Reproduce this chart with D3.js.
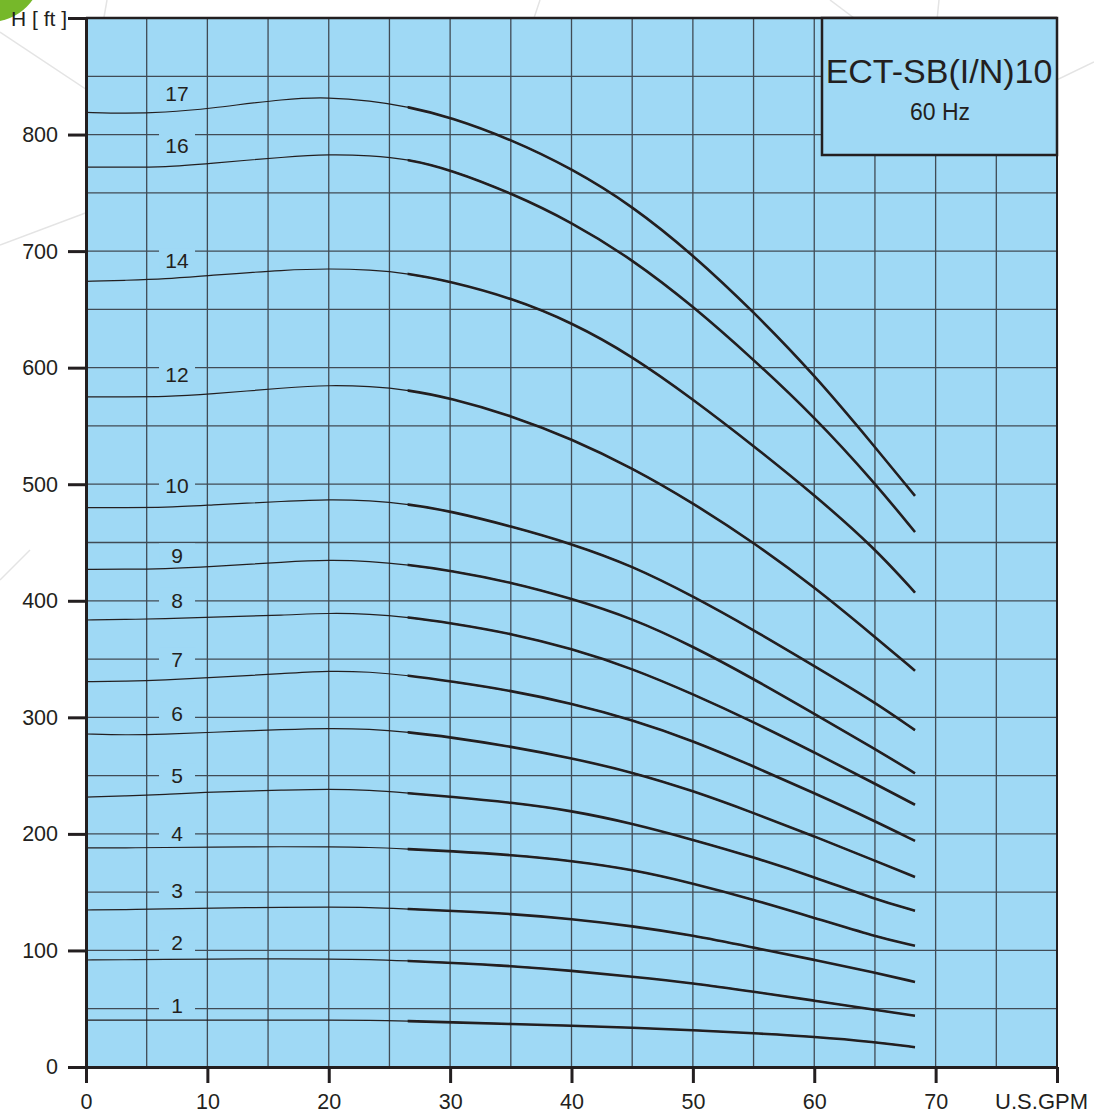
<!DOCTYPE html>
<html>
<head>
<meta charset="utf-8">
<script src="https://cdn.jsdelivr.net/npm/d3@7"></script>
<style>
  body { margin: 0; background: #fff; }
  text { font-family: "Liberation Sans", Arial, sans-serif; fill: #231f20; }
</style>
</head>
<body>
<svg id="chart" width="1094" height="1117"></svg>
<script>
// pump curves, H [ft] read at each flow point (US GPM)
const flow = [0, 3.3, 6.5, 10, 16.6, 20, 23.4, 26.5, 30, 35, 40, 45, 50, 55, 60, 65, 68.3];
const stages = [17, 16, 14, 12, 10, 9, 8, 7, 6, 5, 4, 3, 2, 1];

const head17 = [819, 818, 819, 822, 831, 832, 829, 824, 815, 796, 771, 739, 697, 648, 594, 532, 490];
const head16 = [772, 772, 772, 775, 781, 783, 782, 779, 770, 750, 725, 693, 653, 607, 558, 501, 459];
const head14 = [674, 675, 676, 679, 684, 685, 684, 681, 674, 660, 639, 610, 573, 533, 491, 445, 407];
const head12 = [575, 575, 575, 577, 583, 585, 584, 581, 574, 559, 539, 514, 484, 450, 412, 369, 340];
const head10 = [480, 480, 480, 482, 485.5, 487, 486, 483, 477, 464, 449, 430, 404, 375, 344, 313, 289];
const head9  = [427, 427, 427.5, 429, 433.5, 435, 434, 431, 426, 416, 402, 385, 361, 333, 303, 273, 252];
const head8  = [383.5, 384, 384.6, 385.8, 387.8, 389.5, 388.7, 386, 381, 372, 359, 342, 320, 296, 270, 243, 225];
const head7  = [330.6, 331, 332, 334, 337.7, 340, 339, 336, 331, 323, 312, 298, 280, 258, 235, 211, 194];
const head6  = [285.7, 284.8, 285.5, 287, 289.7, 290.6, 290, 287.4, 283, 275, 265, 253, 237, 218, 198, 177, 163];
const head5  = [231.6, 232.5, 233.8, 236, 237.6, 238.5, 237.5, 235, 232, 227, 220, 209, 195, 180, 163, 144, 134];
const head4  = [188, 188, 188.3, 188.7, 189, 189, 188.5, 187, 185.3, 182, 177, 169.5, 157.6, 143.6, 128, 112, 104];
const head3  = [134.7, 135, 135.6, 136.4, 137, 137.3, 137, 135.5, 134, 131.5, 127, 121, 113, 102.4, 92, 81, 73];
const head2  = [91.8, 92, 92.3, 92.7, 92.7, 92.7, 92.3, 91, 89.5, 86.7, 82.6, 77.5, 72, 64.6, 57, 49, 44];
const head1  = [40.3, 40.3, 40.3, 40.3, 40.3, 40.3, 40, 39.5, 38.3, 36.9, 35.5, 33.7, 31.7, 29, 26, 21.5, 17];
const heads = [head17, head16, head14, head12, head10, head9, head8, head7, head6, head5, head4, head3, head2, head1];

// where the stage numbers sit
const labelFlow = 7.5;
const labelHead = [835, 791, 692, 594.5, 498.6, 439, 400.7, 350, 303, 250.5, 200.8, 151.9, 107, 53.2];

const xTicks = [0, 10, 20, 30, 40, 50, 60, 70, 80];
const yTicks = [0, 100, 200, 300, 400, 500, 600, 700, 800];
const thickFrom = 26.5;

const ink = "#231f20", sky = "#9fd9f5", gridInk = "#404b55";

const svg = d3.select("#chart");

const x = d3.scaleLinear().domain([0, 80]).range([86, 1057]);
const y = d3.scaleLinear().domain([0, 900]).range([1067, 18]);

// faint watermark behind the chart
const bgStrokes = [[0, 32, 200, 165], [107, 0, 100, 40], [830, 0, 870, 30], [939, 0, 936, 30],
                   [1040, 88, 1094, 62], [0, 245, 120, 200], [0, 580, 30, 550], [540, 0, 530, 30]];
svg.selectAll("line.bg").data(bgStrokes).join("line")
    .attr("x1", d => d[0]).attr("y1", d => d[1]).attr("x2", d => d[2]).attr("y2", d => d[3])
    .attr("stroke", "#e4e4e4").attr("stroke-width", 1.5);
svg.append("circle").attr("cx", -10).attr("cy", -30).attr("r", 52).attr("fill", "#76b82a");

// plot background
svg.append("rect")
    .attr("x", x(0)).attr("y", y(900))
    .attr("width", x(80) - x(0)).attr("height", y(0) - y(900))
    .attr("fill", sky);

// grid
const grid = svg.append("g").attr("stroke", gridInk).attr("stroke-width", 1.3);
grid.selectAll("line.h").data(d3.range(50, 900, 50)).join("line")
    .attr("x1", x(0)).attr("x2", x(80))
    .attr("y1", d => y(d)).attr("y2", d => y(d));
grid.selectAll("line.v").data(d3.range(5, 80, 5)).join("line")
    .attr("y1", y(0)).attr("y2", y(900))
    .attr("x1", d => x(d)).attr("x2", d => x(d));

// gaps in the grid behind the stage numbers
svg.append("g").selectAll("rect").data(labelHead).join("rect")
    .attr("x", x(labelFlow) - 18).attr("width", 36)
    .attr("y", d => y(d) - 12).attr("height", 23)
    .attr("fill", sky);

// curves: thin up to 26.5 gpm, heavy beyond
const line = d3.line().x(d => x(d[0])).y(d => y(d[1])).curve(d3.curveBasis);
svg.append("clipPath").attr("id", "heavy")
  .append("rect").attr("x", x(thickFrom)).attr("y", 0).attr("width", 1094).attr("height", 1117);

const curves = svg.append("g").attr("fill", "none").attr("stroke", ink);
heads.forEach(function(h) {
  const pts = flow.map((q, j) => [q, h[j]]);
  curves.append("path").attr("d", line(pts)).attr("stroke-width", 1.2);
  curves.append("path").attr("d", line(pts)).attr("stroke-width", 2.6)
      .attr("clip-path", "url(#heavy)");
});

// stage labels
svg.append("g").selectAll("text").data(stages).join("text")
    .attr("x", x(labelFlow))
    .attr("y", (d, i) => y(labelHead[i]))
    .attr("dy", "0.36em")
    .attr("text-anchor", "middle")
    .style("font-size", "21px")
    .text(d => d);

// frame
svg.append("line").attr("x1", x(0)).attr("x2", x(80)).attr("y1", y(900)).attr("y2", y(900))
    .attr("stroke", ink).attr("stroke-width", 2.5);
svg.append("line").attr("x1", x(80)).attr("x2", x(80)).attr("y1", y(0)).attr("y2", y(900))
    .attr("stroke", ink).attr("stroke-width", 2);

// axes
const yAxis = svg.append("g")
    .attr("transform", `translate(${x(0)},0)`)
    .call(d3.axisLeft(y).tickValues(yTicks.concat([900])).tickSize(18).tickPadding(10).tickSizeOuter(0)
      .tickFormat(d => d === 900 ? "" : d));
const xAxis = svg.append("g")
    .attr("transform", `translate(0,${y(0)})`)
    .call(d3.axisBottom(x).tickValues(xTicks).tickSize(16).tickPadding(11).tickSizeOuter(0)
      .tickFormat(d => d === 80 ? "" : d));

[yAxis, xAxis].forEach(function(a) {
  a.select(".domain").attr("stroke", ink).attr("stroke-width", 3);
  a.selectAll(".tick line").attr("stroke", ink).attr("stroke-width", 3);
  a.selectAll(".tick text").attr("fill", ink)
      .style("font-size", "21.5px").style("font-family", '"Liberation Sans", Arial, sans-serif');
});

svg.append("text").attr("x", 67).attr("y", 26).attr("text-anchor", "end")
    .style("font-size", "21px").text("H [ ft ]");
svg.append("text").attr("x", 1088).attr("y", 1109).attr("text-anchor", "end")
    .style("font-size", "22px").text("U.S.GPM");

// model box
svg.append("rect")
    .attr("x", 822).attr("y", y(900))
    .attr("width", x(80) - 822).attr("height", 137)
    .attr("fill", sky).attr("stroke", ink).attr("stroke-width", 2.5);
svg.append("text").attr("x", 939).attr("y", 83).attr("text-anchor", "middle")
    .style("font-size", "34px").text("ECT-SB(I/N)10");
svg.append("text").attr("x", 940).attr("y", 120).attr("text-anchor", "middle")
    .style("font-size", "23px").text("60 Hz");
</script>
</body>
</html>
